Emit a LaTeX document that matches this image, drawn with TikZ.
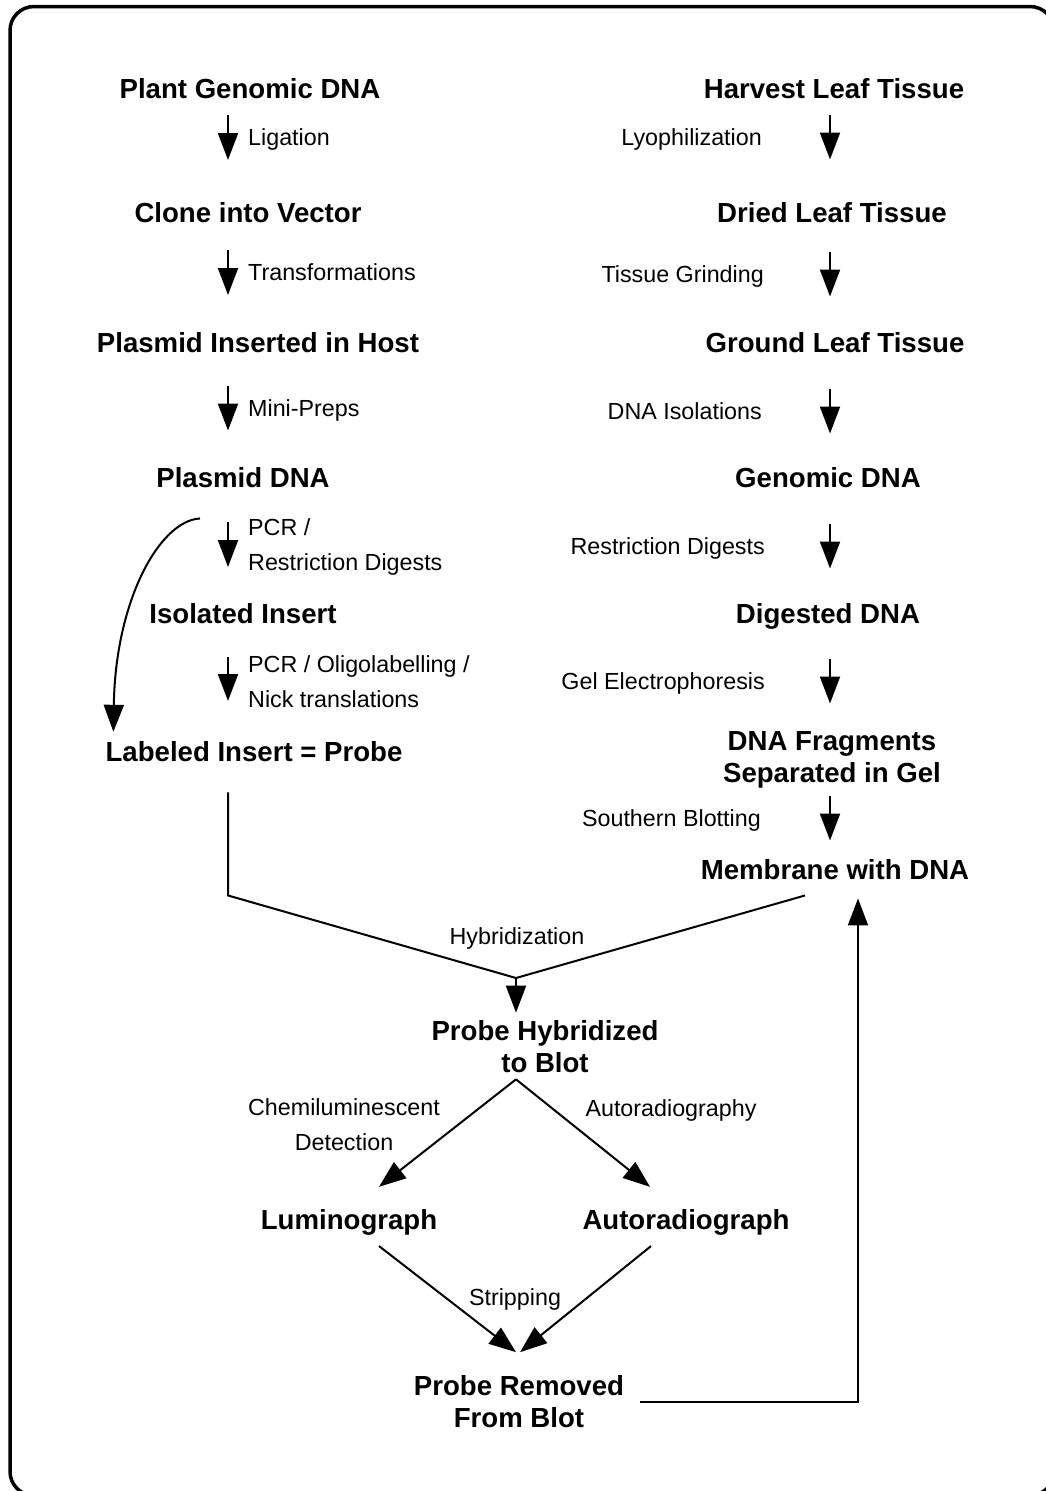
\documentclass[tikz,border=0pt]{standalone}
\usepackage{fontspec}
\setmainfont{Liberation Sans}
\usetikzlibrary{arrows.meta,calc}

\begin{document}
\begin{tikzpicture}[x=1pt,y=-1pt,
    stage/.style={font=\fontsize{27.6}{32}\selectfont\bfseries, inner sep=0pt},
    stagetwo/.style={stage, align=center},
    steplabel/.style={font=\fontsize{23.3}{35}\selectfont, inner sep=0pt, text height=16.7pt, text depth=0pt},
    steplabels/.style={font=\fontsize{23.3}{35}\selectfont, inner sep=0pt},
    flow/.style={line width=2pt, -{Triangle[length=27pt,width=20pt]}},
    plain/.style={line width=2pt}]
    \useasboundingbox (0,0) rectangle (1046,1491);
    \draw[line width=3.5pt, rounded corners=24pt] (10,6.5) rectangle (1054,1495.5);
    \coordinate (laxis) at (228,0);
    \coordinate (raxis) at (830,0);

    % left column
    \node[stage, anchor=base] (plant) at (250,98) {Plant Genomic DNA};
    \node[stage, anchor=base] (clone) at (248,222) {Clone into Vector};
    \node[stage, anchor=base] (host) at (258,352) {Plasmid Inserted in Host};
    \node[stage, anchor=base] (plasmid) at (243,487) {Plasmid DNA};
    \node[stage, anchor=base] (insert) at (243,623) {Isolated Insert};
    \node[stage, anchor=base] (probe) at (254,761) {Labeled Insert = Probe};
    \node[steplabel, anchor=west] (ligation) at (248,137.5) {Ligation};
    \node[steplabel, anchor=west] (transform) at (248,272.5) {Transformations};
    \node[steplabel, anchor=west] (minipreps) at (248,408) {Mini-Preps};
    \node[steplabels, anchor=west, align=left] (pcr) at (248,546.5) {PCR /\\Restriction Digests};
    \node[steplabels, anchor=west, align=left] (oligo) at (248,682) {PCR / Oligolabelling /\\Nick translations};
    \draw[flow] ([yshift=22.5pt]ligation.west -| laxis) -- ++(0,45);
    \draw[flow] ([yshift=22.5pt]transform.west -| laxis) -- ++(0,45);
    \draw[flow] ([yshift=22.5pt]minipreps.west -| laxis) -- ++(0,45);
    \draw[flow] ([yshift=24.5pt]pcr.west -| laxis) -- ++(0,45);
    \draw[flow] ([yshift=25pt]oligo.west -| laxis) -- ++(0,44);
    \draw[flow] ([xshift=-43pt,yshift=-31pt]plasmid.south) .. controls +(-40,2) and +(2,-132) .. ([xshift=8pt,yshift=9pt]probe.north west);

    % right column
    \node[stage, anchor=base] (harvest) at (834,98) {Harvest Leaf Tissue};
    \node[stage, anchor=base] (dried) at (832,222) {Dried Leaf Tissue};
    \node[stage, anchor=base] (ground) at (835,352) {Ground Leaf Tissue};
    \node[stage, anchor=base] (genomic) at (828,487) {Genomic DNA};
    \node[stage, anchor=base] (digested) at (828,623) {Digested DNA};
    \node[stagetwo] (fragments) at (832,759.5) {DNA Fragments\\Separated in Gel};
    \node[stage, anchor=base] (membrane) at (835,879) {Membrane with DNA};
    \node[steplabel, anchor=east] (lyo) at (762,137) {Lyophilization};
    \node[steplabel, anchor=east] (grind) at (764,274) {Tissue Grinding};
    \node[steplabel, anchor=east] (isolation) at (762,411) {DNA Isolations};
    \node[steplabel, anchor=east] (restrict) at (765,546) {Restriction Digests};
    \node[steplabel, anchor=east] (gel) at (765,681) {Gel Electrophoresis};
    \node[steplabel, anchor=east] (southern) at (761,818) {Southern Blotting};
    \draw[flow] ([yshift=22.5pt]lyo.east -| raxis) -- ++(0,45);
    \draw[flow] ([yshift=22.5pt]grind.east -| raxis) -- ++(0,45);
    \draw[flow] ([yshift=22.5pt]isolation.east -| raxis) -- ++(0,45);
    \draw[flow] ([yshift=22.5pt]restrict.east -| raxis) -- ++(0,45);
    \draw[flow] ([yshift=22.5pt]gel.east -| raxis) -- ++(0,45);
    \draw[flow] ([yshift=22.5pt]southern.east -| raxis) -- ++(0,45);

    % hybridization and detection
    \coordinate (join) at (516,978);
    \node[stagetwo] (hybrid) at (545,1047) {Probe Hybridized\\to Blot};
    \node[stage, anchor=base] (lumino) at (349,1229) {Luminograph};
    \node[stage, anchor=base] (autorad) at (686,1229) {Autoradiograph};
    \node[stagetwo] (removed) at (519,1401.5) {Probe Removed\\From Blot};
    \node[steplabel] (hybridization) at (517,936) {Hybridization};
    \node[steplabels, align=center] (chemi) at (344,1124.5) {Chemiluminescent\\Detection};
    \node[steplabel] (autography) at (671,1108) {Autoradiography};
    \node[steplabel] (stripping) at (515,1297) {Stripping};
    \draw[plain] ([yshift=-31pt]probe.south -| laxis) -- ++(0,103) -- (join);
    \draw[plain] ([xshift=-30pt,yshift=-16pt]membrane.south) -- (join);
    \draw[flow] (join) -- ([yshift=8pt]hybrid.north -| join);
    \draw[flow] ([yshift=-6pt]hybrid.south -| join) -- ([xshift=30pt,yshift=22pt]lumino.north);
    \draw[flow] ([yshift=-6pt]hybrid.south -| join) -- ([xshift=-36pt,yshift=22pt]autorad.north);
    \draw[flow] ([xshift=30pt,yshift=-11pt]lumino.south) -- ([xshift=-3pt,yshift=23pt]removed.north);
    \draw[flow] ([xshift=-35pt,yshift=-11pt]autorad.south) -- ([xshift=1pt,yshift=23pt]removed.north);
    \draw[flow] ([xshift=16pt]removed.east) -| ([xshift=23pt,yshift=-19pt]membrane.south);
\end{tikzpicture}
\end{document}
